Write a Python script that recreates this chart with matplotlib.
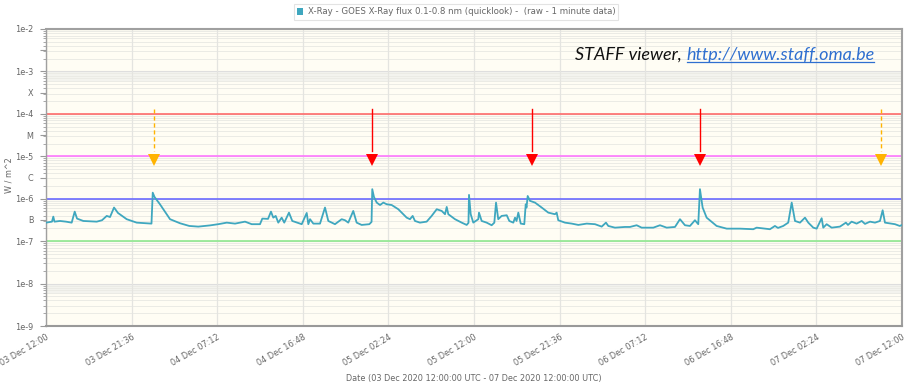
import matplotlib
matplotlib.use("Agg")
import matplotlib.pyplot as plt
from matplotlib.patches import Patch
from matplotlib.lines import Line2D
import numpy as np

# ---- data (hours since 03 Dec 2020 12:00 UTC, flux W/m^2) ----
hours = [0.00, 0.67, 0.82, 0.95, 1.57, 2.24, 2.88, 3.22, 3.48, 4.18, 5.69, 6.28, 6.81, 7.18, 7.63, 8.07,
         9.05, 10.17, 11.66, 11.83, 11.97, 12.17, 12.78, 13.91, 15.03, 16.07, 17.08, 18.39, 19.32, 20.27,
         21.20, 22.32, 23.07, 24.00, 24.26, 24.90, 25.23, 25.49, 25.76, 26.05, 26.43, 26.72, 27.25, 27.62,
         28.68, 29.24, 29.42, 29.61, 29.98, 30.73, 31.29, 31.66, 32.41, 33.16, 33.53, 33.90, 34.46, 34.84,
         35.40, 36.26, 36.51, 36.59, 36.78, 37.09, 37.46, 37.83, 38.21, 38.77, 39.51, 40.45, 40.82, 41.12,
         41.38, 41.94, 42.69, 43.25, 43.82, 44.38, 44.75, 44.94, 45.12, 45.87, 46.62, 47.18, 47.38, 47.44,
         47.63, 47.92, 48.48, 48.56, 48.86, 49.42, 49.98, 50.28, 50.47, 50.72, 51.10, 51.67, 51.96, 52.41,
         52.60, 52.77, 52.97, 53.24, 53.64, 53.80, 53.89, 54.02, 54.28, 54.84, 55.59, 56.33, 57.08, 57.27,
         57.45, 58.20, 58.96, 59.70, 60.64, 61.57, 62.32, 62.80, 63.06, 63.81, 64.93, 65.49, 66.24, 66.80,
         68.11, 68.86, 69.61, 70.54, 71.10, 71.66, 72.22, 72.78, 73.15, 73.34, 73.64, 74.09, 75.21, 76.34,
         77.83, 79.32, 79.70, 81.19, 81.75, 82.09, 82.68, 83.24, 83.63, 84.00, 84.56, 85.12, 85.49, 86.05,
         86.43, 86.99, 87.17, 87.55, 88.11, 89.04, 89.71, 89.94, 90.35, 90.91, 91.48, 91.85, 92.41, 92.97,
         93.53, 93.83, 94.09, 94.84, 95.21, 95.75, 96.00]
flux = [2.73e-7, 2.88e-7, 3.78e-7, 2.88e-7, 2.99e-7, 2.88e-7, 2.73e-7, 4.96e-7, 3.40e-7, 2.99e-7, 2.88e-7,
        3.11e-7, 3.93e-7, 3.70e-7, 6.20e-7, 4.62e-7, 3.29e-7, 2.73e-7, 2.59e-7, 2.59e-7, 1.39e-6, 1.10e-6,
        7.40e-7, 3.29e-7, 2.64e-7, 2.28e-7, 2.20e-7, 2.35e-7, 2.51e-7, 2.73e-7, 2.59e-7, 2.88e-7, 2.51e-7,
        2.51e-7, 3.40e-7, 3.35e-7, 4.96e-7, 3.58e-7, 3.93e-7, 2.73e-7, 3.58e-7, 2.73e-7, 4.70e-7, 2.99e-7,
        2.51e-7, 4.62e-7, 2.51e-7, 3.29e-7, 2.59e-7, 2.59e-7, 6.20e-7, 2.99e-7, 2.51e-7, 3.29e-7, 3.11e-7,
        2.73e-7, 5.15e-7, 2.73e-7, 2.41e-7, 2.51e-7, 2.84e-7, 1.68e-6, 1.10e-6, 8.10e-7, 7.10e-7, 8.10e-7,
        7.40e-7, 7.10e-7, 5.65e-7, 3.58e-7, 3.29e-7, 3.93e-7, 2.99e-7, 2.73e-7, 2.88e-7, 3.93e-7, 5.65e-7,
        5.15e-7, 4.31e-7, 6.40e-7, 4.31e-7, 3.29e-7, 2.73e-7, 2.41e-7, 2.70e-7, 1.23e-6, 4.31e-7, 2.73e-7,
        3.29e-7, 4.70e-7, 2.99e-7, 2.73e-7, 2.37e-7, 2.73e-7, 8.10e-7, 3.29e-7, 3.93e-7, 4.08e-7, 2.99e-7,
        2.73e-7, 3.58e-7, 2.99e-7, 4.70e-7, 2.59e-7, 2.51e-7, 7.40e-7, 6.20e-7, 1.16e-6, 8.90e-7, 8.10e-7,
        6.20e-7, 4.70e-7, 4.31e-7, 4.70e-7, 3.11e-7, 2.73e-7, 2.59e-7, 2.41e-7, 2.59e-7, 2.51e-7, 2.20e-7,
        2.73e-7, 2.28e-7, 2.08e-7, 2.16e-7, 2.16e-7, 2.37e-7, 2.08e-7, 2.08e-7, 2.37e-7, 2.08e-7, 2.16e-7,
        3.29e-7, 2.37e-7, 2.28e-7, 3.11e-7, 2.51e-7, 1.68e-6, 6.20e-7, 3.58e-7, 2.28e-7, 1.97e-7, 1.97e-7,
        1.91e-7, 2.08e-7, 1.91e-7, 2.28e-7, 2.05e-7, 2.28e-7, 2.73e-7, 8.10e-7, 2.99e-7, 2.73e-7, 3.58e-7,
        2.73e-7, 2.08e-7, 1.97e-7, 3.47e-7, 2.08e-7, 2.51e-7, 2.08e-7, 2.20e-7, 2.73e-7, 2.41e-7, 2.88e-7,
        2.59e-7, 2.99e-7, 2.55e-7, 2.88e-7, 2.73e-7, 2.99e-7, 5.35e-7, 2.73e-7, 2.59e-7, 2.51e-7, 2.28e-7,
        2.41e-7]

x_tick_hours = [0, 9.6, 19.2, 28.8, 38.4, 48.0, 57.6, 67.2, 76.8, 86.4, 96.0]
x_tick_labels = ["03 Dec 12:00", "03 Dec 21:36", "04 Dec 07:12", "04 Dec 16:48", "05 Dec 02:24",
                 "05 Dec 12:00", "05 Dec 21:36", "06 Dec 07:12", "06 Dec 16:48", "07 Dec 02:24",
                 "07 Dec 12:00"]
y_tick_values = [1e-2, 10**-2.5, 1e-3, 10**-3.5, 1e-4, 10**-4.5, 1e-5, 10**-5.5, 1e-6, 10**-6.5, 1e-7, 1e-8, 1e-9]
y_tick_labels = ["1e-2", "", "1e-3", "X", "1e-4", "M", "1e-5", "C", "1e-6", "B", "1e-7", "1e-8", "1e-9"]

threshold_values = [1e-4, 1e-5, 1e-6, 1e-7]
threshold_colors = ["#ff6b6b", "#ff77ff", "#6b6bff", "#8fe88f"]

arrow_hours = [12.1, 36.6, 54.5, 73.3, 93.7]
arrow_colors = ["#ffb300", "#ff0000", "#ff0000", "#ff0000", "#ffb300"]
arrow_styles = ["--", "-", "-", "-", "--"]
arrow_top = 1.31e-4
arrow_head = 8.3e-6

FS = 5.9

# ---- figure ----
fig = plt.figure(figsize=(9.16, 3.84), dpi=100)
fig.patch.set_facecolor("white")
ax = fig.add_axes([46/916, 1-326/384, 856/916, 297/384])
ax.set_facecolor("#fffdf4")
ax.set_yscale("log")
ax.set_ylim(1e-9, 1e-2)
ax.set_xlim(0, 96)

# faint bands
ax.axhspan(5.8e-4, 1e-3, color="#f3f3ee", zorder=0, lw=0)
ax.axhspan(5.8e-9, 1e-8, color="#f3f3ee", zorder=0, lw=0)

# grid
for dec in range(-9, -2):
    for m in range(2, 10):
        ax.axhline(m * 10.0**dec, color="#ebebe5", lw=0.7, zorder=1)
for dec in range(-9, -1):
    ax.axhline(10.0**dec, color="#dedede", lw=0.8, zorder=1)
for xt in x_tick_hours:
    ax.axvline(xt, color="#e4e4e0", lw=0.9, zorder=1)

for v, c in zip(threshold_values, threshold_colors):
    ax.axhline(v, color=c, lw=1.2, zorder=2)

ax.plot(hours, flux, color="#3fa7bf", lw=1.3, zorder=4)

for t, c, ls in zip(arrow_hours, arrow_colors, arrow_styles):
    ax.plot([t, t], [arrow_top, 1.3e-5], color=c, lw=1.0, ls=ls, dashes=(3, 2) if ls == "--" else (None, None), zorder=5)
    ax.plot([t], [arrow_head], marker="v", color=c, ms=9, mew=0, zorder=5)

# ticks
ax.set_xticks(x_tick_hours)
ax.set_xticklabels(x_tick_labels, rotation=30, ha="right", va="top", rotation_mode="anchor",
                   fontsize=FS, color="#666666")
ax.tick_params(axis="x", length=0, pad=5)
ax.set_yticks(y_tick_values)
ax.set_yticklabels(y_tick_labels, fontsize=FS, color="#666666")
ax.yaxis.set_minor_locator(matplotlib.ticker.LogLocator(base=10, subs=np.arange(2, 10)))
ax.yaxis.set_minor_formatter(matplotlib.ticker.NullFormatter())
ax.tick_params(axis="y", which="major", length=4, color="#999999", pad=5)
ax.tick_params(axis="y", which="minor", length=2, color="#999999")

for s in ["top", "right"]:
    ax.spines[s].set_color("#a0a0a0")
    ax.spines[s].set_linewidth(1.5)
ax.spines["left"].set_color("#a0a0a0")
ax.spines["left"].set_linewidth(1.0)
ax.spines["bottom"].set_color("#999999")
ax.spines["bottom"].set_linewidth(1.5)

fig.text(9/916, 1-175/384, "W / m^2", rotation=90, ha="center", va="center",
         fontsize=FS, color="#666666")
fig.text(474/916, 1-378/384, "Date (03 Dec 2020 12:00:00 UTC - 07 Dec 2020 12:00:00 UTC)",
         ha="center", va="center", fontsize=FS, color="#666666")

# legend
leg = fig.legend(handles=[Patch(facecolor="#3fa7bf", edgecolor="none")],
                 labels=["X-Ray - GOES X-Ray flux 0.1-0.8 nm (quicklook) -  (raw - 1 minute data)"],
                 loc="center", bbox_to_anchor=(456/916, 1-12/384), fontsize=6.2, frameon=True,
                 handlelength=0.8, handleheight=0.8, handletextpad=0.5, borderpad=0.35, fancybox=False)
leg.get_frame().set_edgecolor("#dddddd")
leg.get_frame().set_linewidth(0.8)
for txt in leg.get_texts():
    txt.set_color("#666666")

# watermark text
t1 = fig.text(575/916, 1-55/384, "STAFF viewer, ", fontsize=13, style="italic", family="Lato",
              color="#111111", ha="left", va="center")
t2 = ax.annotate("http://www.staff.oma.be", xy=(1, 0), xycoords=t1, va="bottom", ha="left",
                 fontsize=13, style="italic", family="Lato", color="#2f6fd0")
fig.canvas.draw()
bb = t2.get_window_extent()
fig.add_artist(Line2D([bb.x0 / 916 + 0.001, bb.x1 / 916], [(bb.y0 + 1.5) / 384] * 2,
                      color="#2f6fd0", lw=0.9, transform=fig.transFigure))

fig.savefig("out.png", dpi=100)
